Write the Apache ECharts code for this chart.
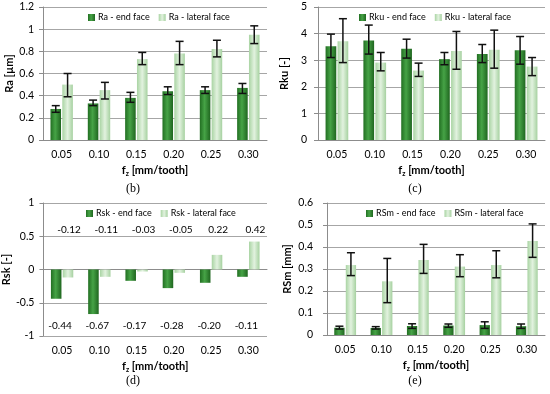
<!DOCTYPE html>
<html><head><meta charset="utf-8">
<script src="https://cdn.jsdelivr.net/npm/echarts@6/dist/echarts.min.js"></script>
<style>html,body{margin:0;padding:0;background:#fff}#c{width:550px;height:394px}</style>
</head><body><div id="c"></div>
<script>
const categories = ['0.05','0.10','0.15','0.20','0.25','0.30'];
// (b) Ra [µm]
const raEnd   = [0.28,0.33,0.38,0.44,0.45,0.47];
const raEndLo = [0.25,0.31,0.34,0.41,0.42,0.42];
const raEndHi = [0.31,0.36,0.43,0.48,0.48,0.51];
const raLat   = [0.50,0.45,0.73,0.78,0.82,0.95];
const raLatLo = [0.39,0.37,0.68,0.68,0.75,0.87];
const raLatHi = [0.60,0.52,0.79,0.89,0.90,1.03];
// (c) Rku [-]
const rkuEnd   = [3.52,3.74,3.43,3.04,3.23,3.37];
const rkuEndLo = [3.10,3.23,3.08,2.83,2.91,2.85];
const rkuEndHi = [3.98,4.32,3.79,3.29,3.59,3.89];
const rkuLat   = [3.71,2.91,2.61,3.35,3.39,2.76];
const rkuLatLo = [2.91,2.60,2.39,2.66,2.70,2.42];
const rkuLatHi = [4.56,3.29,2.89,4.08,4.13,3.10];
// (d) Rsk [-]
const rskEnd = [-0.44,-0.67,-0.17,-0.28,-0.20,-0.11];
const rskLat = [-0.12,-0.11,-0.03,-0.05,0.22,0.42];
// (e) RSm [mm]
const rsmEnd   = [0.033,0.032,0.041,0.043,0.045,0.040];
const rsmEndLo = [0.027,0.027,0.030,0.035,0.030,0.030];
const rsmEndHi = [0.040,0.038,0.051,0.050,0.060,0.050];
const rsmLat   = [0.318,0.244,0.341,0.311,0.318,0.427];
const rsmLatLo = [0.270,0.147,0.280,0.265,0.260,0.353];
const rsmLatHi = [0.374,0.348,0.412,0.365,0.383,0.505];

const FONT = 'Lato';
const CAT_GAP = 0.40, BAR_GAP = 0.12;
const darkGrad = {type:'linear',x:0,y:0,x2:1,y2:0,colorStops:[
  {offset:0,color:'#226f22'},{offset:0.45,color:'#46a346'},{offset:1,color:'#1f661f'}]};
const lightGrad = {type:'linear',x:0,y:0,x2:1,y2:0,colorStops:[
  {offset:0,color:'#a9d4a3'},{offset:0.5,color:'#e2f2df'},{offset:1,color:'#a6d1a0'}]};

function errData(lo, hi){ return lo.map((v,i)=>[i, v, hi[i]]); }
function errRender(sign){
  return function(params, api){
    const i = api.value(0);
    const band = api.size([1,0])[0];
    const total = band*(1-CAT_GAP);
    const bw = total/(2+BAR_GAP);
    const off = sign*(bw*(1+BAR_GAP))/2;
    const a = api.coord([i, api.value(1)]);
    const b = api.coord([i, api.value(2)]);
    const x = a[0]+off, cap = 4;
    const st = {stroke:'#111', lineWidth:1.5};
    return {type:'group', children:[
      {type:'line', shape:{x1:x,y1:a[1],x2:x,y2:b[1]}, style:st},
      {type:'line', shape:{x1:x-cap,y1:a[1],x2:x+cap,y2:a[1]}, style:st},
      {type:'line', shape:{x1:x-cap,y1:b[1],x2:x+cap,y2:b[1]}, style:st}
    ]};
  };
}
function labelRender(level, dx){
  return function(params, api){
    const p = api.coord([api.value(0), level]);
    return {type:'text', x:p[0]+dx, y:p[1], style:{text:api.value(1).toFixed(2),
      fill:'#000', font:'10px '+FONT, align:'center', verticalAlign:'middle'}};
  };
}

const grids = [
  {left:43, top:7, width:224, height:133},
  {left:318, top:7, width:227, height:133},
  {left:43, top:203, width:224, height:133},
  {left:327, top:203, width:218, height:132}
];
const xName = '{a|f}{s|z}{a| [mm/tooth]}';
const xNameStyle = {rich:{a:{fontFamily:FONT,fontWeight:'bold',fontSize:11,color:'#000',lineHeight:14,verticalAlign:'middle'},
  s:{fontFamily:FONT,fontWeight:'bold',fontSize:7,color:'#000',lineHeight:14,verticalAlign:'bottom'}}};
function xAxis(gi, opts){
  return Object.assign({type:'category', gridIndex:gi, data:categories,
    axisLine:{lineStyle:{color:'#8c8c8c'}}, axisTick:{length:4,lineStyle:{color:'#8c8c8c'}},
    axisLabel:{fontFamily:FONT,fontSize:10.5,color:'#000',margin:9},
    name:xName, nameLocation:'middle', nameGap:23, nameTextStyle:xNameStyle}, opts||{});
}
function yAxis(gi, min, max, interval, name, gap, margin){
  return {type:'value', gridIndex:gi, min, max, interval,
    axisLine:{show:true,lineStyle:{color:'#8c8c8c'}}, axisTick:{show:true,length:4,lineStyle:{color:'#8c8c8c'}},
    splitLine:{lineStyle:{color:'#a6a6a6'}},
    axisLabel:{fontFamily:FONT,fontSize:10.5,color:'#000',margin:margin},
    name, nameLocation:'middle', nameGap:gap,
    nameTextStyle:{fontFamily:FONT,fontWeight:'bold',fontSize:11,color:'#000'}};
}
function bar(name, data, gi, color){
  return {type:'bar', name, data, xAxisIndex:gi, yAxisIndex:gi, itemStyle:{color},
    barCategoryGap:(CAT_GAP*100)+'%', barGap:(BAR_GAP*100)+'%', animation:false};
}
function err(lo, hi, xi, yi, sign){
  return {type:'custom', data:errData(lo,hi), xAxisIndex:xi, yAxisIndex:yi,
    encode:{x:0,y:[1,2]}, renderItem:errRender(sign), z:5, animation:false, silent:true};
}
function legend(names, left, top){
  return {data:names, left, top, itemWidth:7, itemHeight:7, itemGap:9, icon:'rect',
    textStyle:{fontFamily:FONT,fontSize:9,color:'#000',padding:[0,0,0,-2]}, selectedMode:false, padding:0};
}

const option = {
  animation:false,
  grid:grids,
  xAxis:[
    xAxis(0), xAxis(1),
    xAxis(2,{axisLabel:{show:false}, name:'', axisLine:{onZero:true,lineStyle:{color:'#8c8c8c'}}}),
    xAxis(3),
    xAxis(2,{axisLine:{show:false,onZero:false}, axisTick:{show:false}, position:'bottom'})
  ],
  yAxis:[
    yAxis(0,0,1.2,0.2,'Ra [µm]',24,9),
    yAxis(1,0,5,1,'Rku [-]',28,11),
    yAxis(2,-1,1,0.5,'Rsk [-]',24,9),
    yAxis(3,0,0.6,0.1,'RSm [mm]',34,14)
  ],
  legend:[
    legend(['Ra - end face','Ra - lateral face'],88,13),
    legend(['Rku - end face','Rku - lateral face'],359,13),
    legend(['Rsk - end face','Rsk - lateral face'],86,209),
    legend(['RSm - end face','RSm - lateral face'],366,209)
  ],
  series:[
    bar('Ra - end face', raEnd, 0, darkGrad),
    bar('Ra - lateral face', raLat, 0, lightGrad),
    err(raEndLo, raEndHi, 0, 0, -1),
    err(raLatLo, raLatHi, 0, 0, 1),
    bar('Rku - end face', rkuEnd, 1, darkGrad),
    bar('Rku - lateral face', rkuLat, 1, lightGrad),
    err(rkuEndLo, rkuEndHi, 1, 1, -1),
    err(rkuLatLo, rkuLatHi, 1, 1, 1),
    bar('Rsk - end face', rskEnd, 2, darkGrad),
    bar('Rsk - lateral face', rskLat, 2, lightGrad),
    {type:'custom', data:rskLat.map((v,i)=>[i,v]), xAxisIndex:2, yAxisIndex:2, encode:{x:0,y:1},
      renderItem:labelRender(0.6, 7), z:6, silent:true},
    {type:'custom', data:rskEnd.map((v,i)=>[i,v]), xAxisIndex:2, yAxisIndex:2, encode:{x:0,y:1},
      renderItem:labelRender(-0.85, -2), z:6, silent:true},
    bar('RSm - end face', rsmEnd, 3, darkGrad),
    bar('RSm - lateral face', rsmLat, 3, lightGrad),
    err(rsmEndLo, rsmEndHi, 3, 3, -1),
    err(rsmLatLo, rsmLatHi, 3, 3, 1)
  ],
  graphic:[
    {type:'text', x:133, y:189, style:{text:'(b)', font:'12px "Liberation Serif"', fill:'#000', align:'center', verticalAlign:'middle'}},
    {type:'text', x:415, y:189, style:{text:'(c)', font:'12px "Liberation Serif"', fill:'#000', align:'center', verticalAlign:'middle'}},
    {type:'text', x:133, y:381, style:{text:'(d)', font:'12px "Liberation Serif"', fill:'#000', align:'center', verticalAlign:'middle'}},
    {type:'text', x:415, y:381, style:{text:'(e)', font:'12px "Liberation Serif"', fill:'#000', align:'center', verticalAlign:'middle'}}
  ]
};
const chart = echarts.init(document.getElementById('c'), null, {renderer:'canvas'});
chart.setOption(option);
</script></body></html>
